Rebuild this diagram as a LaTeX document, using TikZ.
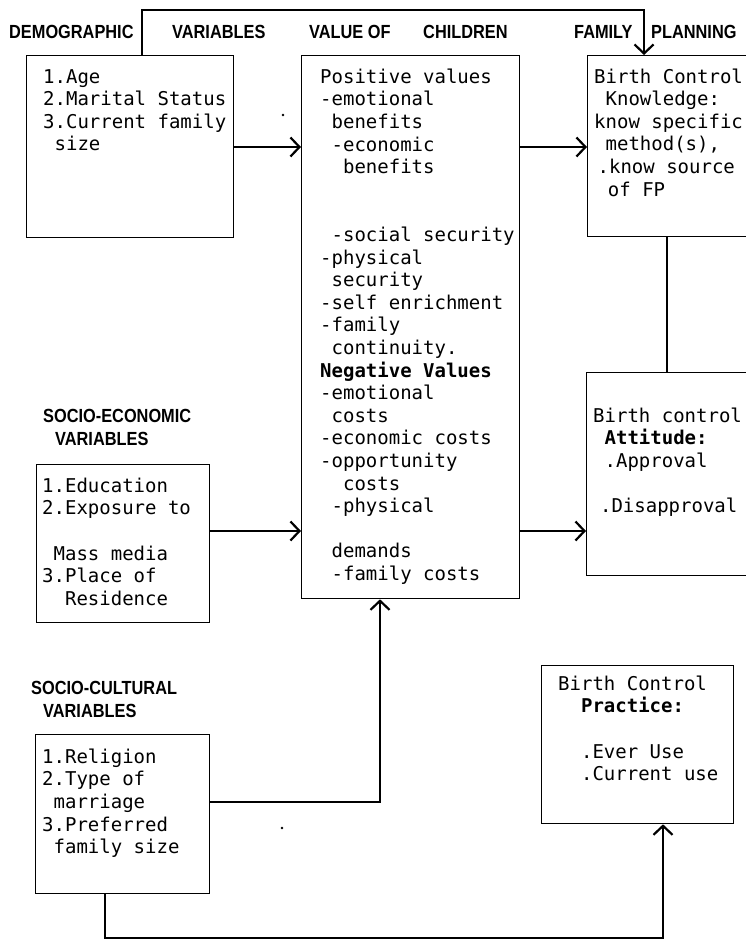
\documentclass[tikz,border=0pt]{standalone}
\usepackage{fontspec}
\usepackage{tikz}
\usetikzlibrary{positioning, arrows.meta}
\newfontfamily\boxfont{DejaVu Sans Mono}
\newfontfamily\headfont{Liberation Sans}[FakeStretch=0.86]
\newlength{\charw}
\setlength{\charw}{11.45pt}
\newcommand{\ind}[1]{\hspace*{#1\charw}}
\newcommand{\fstrut}{\rule{0pt}{15pt}}

\begin{document}
\begin{tikzpicture}[x=1pt, y=-1pt]
    \useasboundingbox (0,0) rectangle (745,941);
    \tikzstyle{every node}=[inner sep=0pt];
    \tikzstyle{box}=[draw, line width=1.3pt, anchor=north west];
    \tikzstyle{txt}=[anchor=north west, align=left, font=\boxfont\fontsize{19}{22.6}\selectfont];
    \tikzstyle{head}=[anchor=base west, font=\headfont\bfseries\fontsize{19}{23}\selectfont];
    \tikzstyle{headtwo}=[anchor=north west, align=left, font=\headfont\bfseries\fontsize{19}{23}\selectfont];
    \tikzstyle{link}=[line width=1.2pt];
    \tikzstyle{arr}=[link, -{Straight Barb[length=9pt, width=19pt, line width=2.2pt]}];

    % headings
    \node[head] (h-demo)   at (9,39)   {DEMOGRAPHIC};
    \node[head] (h-var)    at (172,39) {VARIABLES};
    \node[head] (h-value)  at (309,39) {VALUE OF};
    \node[head] (h-child)  at (423,39) {CHILDREN};
    \node[head] (h-family) at (574,39) {FAMILY};
    \node[head] (h-plan)   at (651,39) {PLANNING};
    \node[headtwo] (h-socioeco)   at (43,409) {SOCIO-ECONOMIC\\\hspace*{12pt}VARIABLES};
    \node[headtwo] (h-sociocult)  at (31,681) {SOCIO-CULTURAL\\\hspace*{12pt}VARIABLES};

    % boxes
    \node[box, minimum width=207pt, minimum height=182pt] (demo)      at (26,55)  {};
    \node[box, minimum width=218pt, minimum height=543pt] (value)     at (301,55) {};
    \node[box, minimum width=160pt, minimum height=181pt] (know)      at (587,55) {};
    \node[box, minimum width=161pt, minimum height=203pt] (att)       at (586,372) {};
    \node[box, minimum width=173pt, minimum height=158pt] (socioeco)  at (36,464) {};
    \node[box, minimum width=174pt, minimum height=159pt] (sociocult) at (35,734) {};
    \node[box, minimum width=192pt, minimum height=158pt] (practice)  at (541,665) {};

    % box texts
    \node[txt, below right=13pt and 17pt of demo.north west] (demo-txt)
      {\fstrut 1.Age\\2.Marital Status\\3.Current family\\\ind{1}size};
    \node[txt, below right=13pt and 19pt of value.north west] (value-txt)
      {\fstrut Positive values\\-emotional\\\ind{1}benefits\\\ind{1}-economic\\\ind{2}benefits\\ \\ \\
       \ind{1}-social security\\-physical\\\ind{1}security\\-self enrichment\\-family\\\ind{1}continuity.\\
       \textbf{Negative Values}\\-emotional\\\ind{1}costs\\-economic costs\\-opportunity\\\ind{2}costs\\
       \ind{1}-physical\\ \\\ind{1}demands\\\ind{1}-family costs};
    \node[txt, below right=13pt and 7pt of know.north west] (know-txt)
      {\fstrut Birth Control\\\ind{1}Knowledge:\\know specific\\\ind{1}method(s),\\\ind{0.3}.know source\\\ind{1.2}of FP};
    \node[txt, below right=35pt and 7pt of att.north west] (att-txt)
      {\fstrut Birth control\\\ind{1}\textbf{Attitude:}\\\ind{1}.Approval\\ \\\ind{0.6}.Disapproval};
    \node[txt, below right=13pt and 6pt of socioeco.north west] (socioeco-txt)
      {\fstrut 1.Education\\2.Exposure to\\ \\\ind{1}Mass media\\3.Place of\\\ind{2}Residence};
    \node[txt, below right=14pt and 7pt of sociocult.north west] (sociocult-txt)
      {\fstrut 1.Religion\\2.Type of\\\ind{1}marriage\\3.Preferred\\\ind{1}family size};
    \node[txt, below right=10pt and 17pt of practice.north west] (practice-txt)
      {\fstrut Birth Control\\\ind{2}\textbf{Practice:}\\ \\\ind{2}.Ever Use\\\ind{2}.Current use};

    % helper points
    \coordinate (topL) at (142,10);
    \coordinate (topR) at (644,10);
    \coordinate (rowA) at (0,147);
    \coordinate (rowB) at (0,531);
    \coordinate (colK) at (667,0);
    \coordinate (colV) at (380,802);
    \coordinate (botL) at (105,938);
    \coordinate (botR) at (663,938);

    % connectors
    \draw[arr] (demo.north -| topL) -- (topL) -- (topR) -- (know.north -| topR);
    \draw[arr] (demo.east |- rowA) -- (value.west |- rowA);
    \draw[arr] (value.east |- rowA) -- (know.west |- rowA);
    \draw[link] (know.south -| colK) -- (att.north -| colK);
    \draw[arr] (socioeco.east |- rowB) -- (value.west |- rowB);
    \draw[arr] (value.east |- rowB) -- (att.west |- rowB);
    \draw[arr] (sociocult.east |- colV) -- (colV) -- (value.south -| colV);
    \draw[arr] (sociocult.south -| botL) -- (botL) -- (botR) -- (practice.south -| botR);

    % specks
    \fill (283,115) circle (1.3pt);
    \fill (282,828) circle (1.3pt);
\end{tikzpicture}
\end{document}
